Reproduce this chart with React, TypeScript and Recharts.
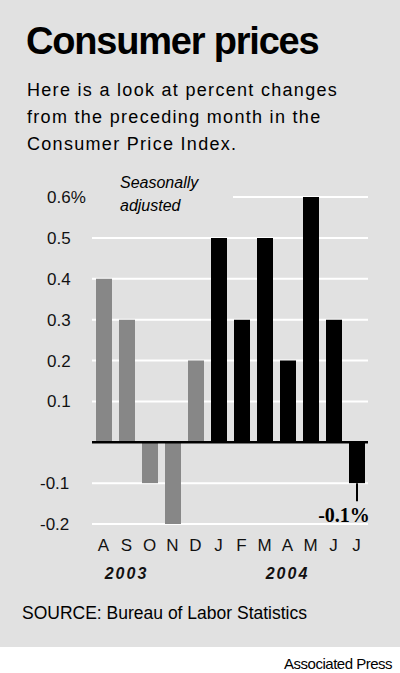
import React from "react";
import {
  BarChart,
  Bar,
  Cell,
  XAxis,
  YAxis,
  CartesianGrid,
  ReferenceLine,
  LabelList,
} from "recharts";

const months = ["A", "S", "O", "N", "D", "J", "F", "M", "A", "M", "J", "J"];
const changes = [0.4, 0.3, -0.1, -0.2, 0.2, 0.5, 0.3, 0.5, 0.2, 0.6, 0.3, -0.1];
const years = [2003, 2003, 2003, 2003, 2003, 2004, 2004, 2004, 2004, 2004, 2004, 2004];
const yTicks = [-0.2, -0.1, 0, 0.1, 0.2, 0.3, 0.4, 0.5, 0.6];
const yearLabels = [
  { index: 1, text: "2003" },
  { index: 8, text: "2004" },
];

const data = months.map((m, i) => ({
  key: `${m}-${i}`,
  month: m,
  value: changes[i],
  year: years[i],
}));

const BG = "#e1e1e1";
const sans = "'Liberation Sans', Arial, sans-serif";

const YTick = (props: any) => {
  const { y, payload } = props;
  const v = payload.value;
  if (v === 0) return null;
  let label = v.toFixed(1);
  if (v === 0.6) label = "0.6%";
  return (
    <text
      x={v < 0 ? 40 : 47}
      y={y}
      dy={6}
      textAnchor="start"
      fontFamily={sans}
      fontSize={17}
      fill="#111"
    >
      {label}
    </text>
  );
};

const XTick = (props: any) => {
  const { x, y, payload, index } = props;
  const year = yearLabels.find((d) => d.index === index);
  return (
    <g>
      <text
        x={x}
        y={y}
        dy={27}
        textAnchor="middle"
        fontFamily={sans}
        fontSize={17}
        fill="#111"
      >
        {payload.value.split("-")[0]}
      </text>
      {year && (
        <text
          x={x}
          y={y}
          dy={55}
          textAnchor="middle"
          fontFamily={sans}
          fontStyle="italic"
          fontWeight="bold"
          fontSize={16}
          letterSpacing={2}
          fill="#111"
        >
          {year.text}
        </text>
      )}
    </g>
  );
};

const LastLabel = (props: any) => {
  const { x, y, width, height, index } = props;
  if (index !== data.length - 1) return null;
  const cx = x + width / 2;
  const bottom = Math.max(y, y + height);
  return (
    <g>
      <line x1={cx} x2={cx} y1={bottom} y2={bottom + 18} stroke="#000" strokeWidth={2} />
      <text
        x={cx - 13}
        y={bottom + 39}
        textAnchor="middle"
        fontFamily="'Liberation Serif', serif"
        fontWeight="bold"
        fontSize={20}
        fill="#000"
      >
        -0.1%
      </text>
    </g>
  );
};

export default function App() {
  return (
    <div
      style={{
        position: "absolute",
        top: 0,
        left: 0,
        width: 400,
        height: 673,
        background: "#fff",
        fontFamily: sans,
        overflow: "hidden",
      }}
    >
      <div
        style={{
          position: "absolute",
          top: 0,
          left: 0,
          width: 400,
          height: 647,
          background: BG,
        }}
      />
      <div
        style={{
          position: "absolute",
          left: 26,
          top: 17,
          fontSize: 38,
          fontWeight: "bold",
          letterSpacing: -1.2,
          color: "#000",
          lineHeight: "48px",
        }}
      >
        Consumer prices
      </div>
      <div
        style={{
          position: "absolute",
          left: 27,
          top: 77,
          width: 373,
          fontSize: 18,
          letterSpacing: 1.3,
          lineHeight: "27px",
          color: "#000",
          whiteSpace: "nowrap",
        }}
      >
        Here is a look at percent changes
        <br />
        from the preceding month in the
        <br />
        Consumer Price Index.
      </div>

      <div style={{ position: "absolute", top: 0, left: 0 }}>
        <BarChart
          width={400}
          height={590}
          data={data}
          margin={{ top: 197, right: 32, bottom: 0, left: 0 }}
          barSize={16}
        >
          <CartesianGrid
            vertical={false}
            horizontal
            stroke="#fff"
            strokeWidth={2}
          />
          <XAxis
            dataKey="key"
            axisLine={false}
            tickLine={false}
            tickSize={0}
            tickMargin={0}
            height={66}
            interval={0}
            tick={<XTick />}
          />
          <YAxis
            domain={[-0.2, 0.6]}
            ticks={yTicks}
            width={92}
            axisLine={false}
            tickLine={false}
            interval={0}
            tick={<YTick />}
          />
          <ReferenceLine y={0} stroke="#000" strokeWidth={2.5} />
          <Bar dataKey="value" isAnimationActive={false}>
            {data.map((d) => (
              <Cell key={d.key} fill={d.year === 2003 ? "#878787" : "#000"} />
            ))}
            <LabelList dataKey="value" content={<LastLabel />} />
          </Bar>
        </BarChart>
      </div>

      <div
        style={{
          position: "absolute",
          left: 92,
          top: 168,
          width: 141,
          height: 40,
          background: BG,
        }}
      />
      <div
        style={{
          position: "absolute",
          left: 120,
          top: 171,
          fontSize: 16,
          fontStyle: "italic",
          lineHeight: "23px",
          color: "#000",
        }}
      >
        Seasonally
        <br />
        adjusted
      </div>

      <div
        style={{
          position: "absolute",
          left: 22,
          top: 603,
          fontSize: 17.5,
          color: "#000",
          whiteSpace: "nowrap",
        }}
      >
        SOURCE: Bureau of Labor Statistics
      </div>
      <div
        style={{
          position: "absolute",
          right: 8,
          top: 655,
          fontSize: 15,
          letterSpacing: -0.5,
          color: "#000",
          whiteSpace: "nowrap",
        }}
      >
        Associated Press
      </div>
    </div>
  );
}
